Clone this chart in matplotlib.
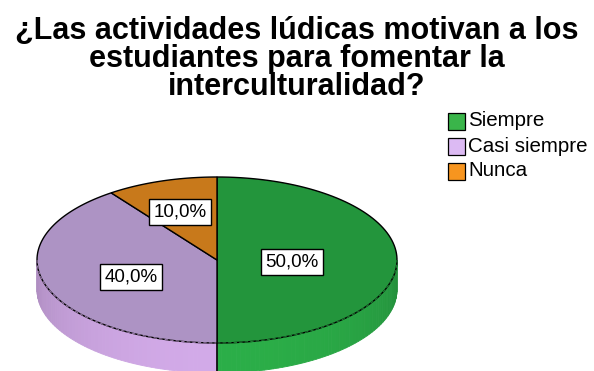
import numpy as np
import matplotlib.pyplot as plt
from matplotlib.patches import Polygon, Rectangle
from matplotlib.colors import to_rgb

# Datos del gráfico
categorias = ["Siempre", "Casi siempre", "Nunca"]
porcentajes = [50.0, 40.0, 10.0]
color_cara = ["#23953c", "#ad93c4", "#c8791b"]
color_lado = ["#2bae48", "#d2aae8", "#e08a22"]
color_leyenda = ["#3ab54a", "#dcbaf3", "#f7951f"]
titulo = "¿Las actividades lúdicas motivan a los\nestudiantes para fomentar la\ninterculturalidad?"

# Geometría del pastel (en píxeles de la figura)
cx, cy = 217, 260
rx, ry = 180, 83
prof = 30

fig = plt.figure(figsize=(5.94, 3.71), dpi=100)
ax = fig.add_axes([0, 0, 1, 1])
ax.set_xlim(0, 594)
ax.set_ylim(371, 0)
ax.axis("off")


def punto(theta, dy=0):
    t = np.radians(theta)
    return cx + rx * np.cos(t), cy - ry * np.sin(t) + dy


# Ángulos de cada porción: empieza arriba y gira en sentido horario
limites = []
inicio = 90.0
for p in porcentajes:
    fin = inicio - p / 100 * 360
    limites.append((inicio, fin))
    inicio = fin

# Lados (solo la mitad frontal es visible)
for (a0, a1), cl in zip(limites, color_lado):
    lo, hi = min(a0, a1), max(a0, a1)
    seg_lo, seg_hi = max(lo, -180), min(hi, 0)
    if seg_lo >= seg_hi:
        continue
    ang = np.linspace(seg_lo, seg_hi, 60)
    base = np.array(to_rgb(cl))
    for i in range(len(ang) - 1):
        m = (ang[i] + ang[i + 1]) / 2
        luz = 0.82 + 0.18 * abs(np.sin(np.radians(m)))
        c = np.clip(base * luz, 0, 1)
        pts = [punto(ang[i]), punto(ang[i + 1]),
               punto(ang[i + 1], prof), punto(ang[i], prof)]
        ax.add_patch(Polygon(pts, closed=True, facecolor=c, edgecolor=c, lw=0.6))
    borde = np.array([punto(a) for a in ang])
    ax.plot(borde[:, 0], borde[:, 1], color=np.clip(base * 0.7, 0, 1),
            lw=0.8, ls=(0, (3, 2)))

# Línea de separación en el frente
ax.plot([cx, cx], [cy + ry, cy + ry + prof], color="black", lw=1.2)

# Cara superior
for (a0, a1), cf in zip(limites, color_cara):
    ang = np.linspace(a0, a1, 100)
    pts = [(cx, cy)] + [punto(a) for a in ang]
    ax.add_patch(Polygon(pts, closed=True, facecolor=cf, edgecolor="black",
                         lw=1.0, joinstyle="miter"))

# Etiquetas de porcentaje
pos_etiquetas = [(292, 262), (131, 277), (180, 212)]
for p, (x, y) in zip(porcentajes, pos_etiquetas):
    ax.text(x, y, f"{p:.1f}%".replace(".", ","), ha="center", va="center",
            fontsize=13.5, family="Liberation Sans",
            bbox=dict(boxstyle="square,pad=0.22", facecolor="white",
                      edgecolor="black", lw=1.0))

# Título
ax.text(297, 59, titulo, ha="center", va="center", fontsize=22,
        fontweight="bold", family="Liberation Sans", linespacing=0.93)

# Leyenda
for i, (cat, col) in enumerate(zip(categorias, color_leyenda)):
    y = 121 + i * 25
    ax.add_patch(Rectangle((448, y - 8.5), 17, 17, facecolor=col,
                           edgecolor="black", lw=0.9))
    ax.text(468, y, cat, ha="left", va="center", fontsize=14.8,
            family="Liberation Sans")

fig.savefig("out.png", dpi=100)
